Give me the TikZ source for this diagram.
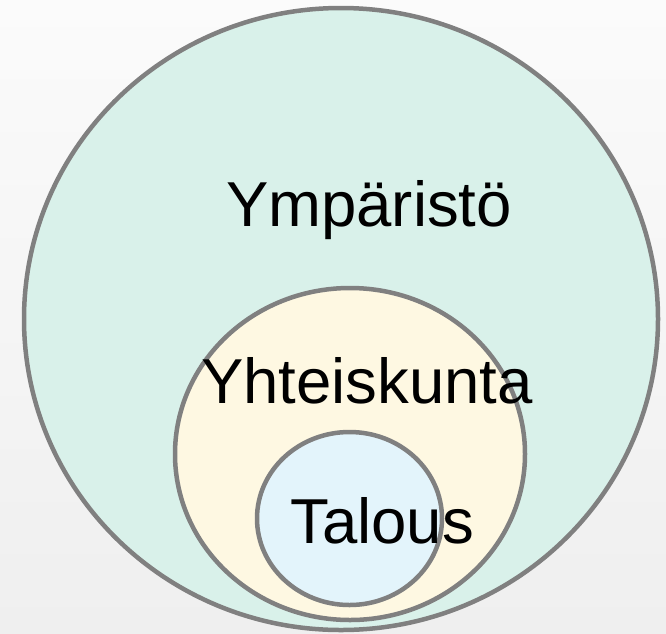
\documentclass[tikz,border=0pt]{standalone}
\usepackage{fontspec}
\setmainfont{Liberation Sans}
\usetikzlibrary{shapes.geometric}
\definecolor{bgA}{HTML}{FBFBFB}
\definecolor{bgB}{HTML}{EFEFEF}
\definecolor{ringgray}{HTML}{808080}
\definecolor{envfill}{HTML}{D9F1EA}
\definecolor{socfill}{HTML}{FEF8E2}
\definecolor{ecofill}{HTML}{E3F4FB}
\tikzset{
  ring/.style={ellipse, draw=ringgray, line width=4.5pt, inner sep=0pt, outer sep=0pt},
  lbl/.style={font=\fontsize{63.5}{70}\selectfont, inner sep=0pt, anchor=base}
}
\begin{document}
\begin{tikzpicture}[x=1pt,y=-1pt]
  \shade[top color=bgA, bottom color=bgB] (0,0) rectangle (666,633);
  \useasboundingbox (0,0) rectangle (666,633);
  \node[ring, fill=envfill, minimum width=634pt, minimum height=622pt] (env) at (341,319) {};
  \node[ring, fill=socfill, minimum width=350pt, minimum height=332pt] (soc) at (350,454) {};
  \node[ring, fill=ecofill, minimum width=185pt, minimum height=173pt] (eco) at (349.5,518.5) {};
  \node[lbl] (tenv) at (369,226) {Ympäristö};
  \node[lbl] (tsoc) at (367,403) {Yhteiskunta};
  \node[lbl] (teco) at (382,543) {Talous};
\end{tikzpicture}
\end{document}
